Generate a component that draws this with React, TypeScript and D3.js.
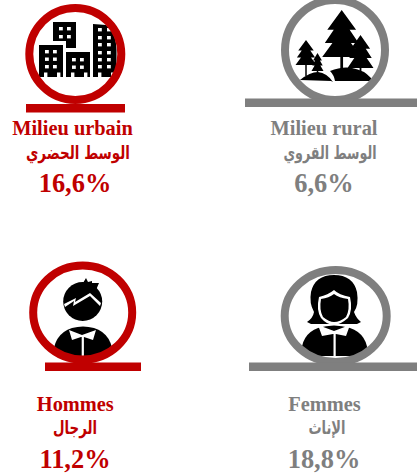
import React from 'react';
import * as d3 from 'd3';

// Data
const labelsFr = ['Milieu urbain', 'Milieu rural', 'Hommes', 'Femmes'];
const labelsAr = ['الوسط الحضري', 'الوسط القروي', 'الرجال', 'الإناث'];
const rates = [16.6, 6.6, 11.2, 18.8];
const icons = ['city', 'trees', 'man', 'woman'];

// Layout of each panel
const frX = [72.5, 324, 75.3, 324.5];
const arX = [78, 330, 75, 327];
const arW = [104, 93, 44, 37];
const valX = [75, 324, 75, 324];
const textBaseY = [135, 135, 410.5, 410.5];
const ringCx = [75.3, 335, 82.7, 335.7];
const ringCy = [54, 50, 312.5, 316];
const ringRx = [46, 50, 49.5, 51];
const ringRy = [46, 50, 47, 46];
const barX0 = [26, 245, 45, 249];
const barX1 = [125, 417, 141, 417];
const barY = [104, 98.5, 362.5, 362.5];
const BAR_H = 8.5;
const RING_W = 8;

const RED = '#c00000';
const GREY = '#7f7f7f';
const colors = [RED, GREY, RED, GREY];

const fmt = (v: number) => d3.format('.1f')(v).replace('.', ',') + '%';

function City() {
  const windows = (xs: number[], ys: number[]) =>
    xs.flatMap((x) => ys.map((y) => <rect key={x + '-' + y} x={x} y={y} width={3.8} height={3.4} fill="#fff" />));
  const doors = [44, 57, 71, 84, 98, 111];
  return (
    <g>
      <path d="M53 22H76V48H66V41H53Z" fill="#000" />
      <rect x={39} y={45} width={24} height={32} fill="#000" />
      <rect x={66} y={52} width={24} height={25} fill="#000" />
      <path d="M93 24L106 25Q116 32 116.5 50V77H93Z" fill="#000" />
      {windows([59, 67], [27, 35])}
      {windows([45, 53], [50, 57.5, 65])}
      {windows([72, 80], [58, 65.5])}
      {windows([98, 107], [28, 36, 43, 51, 58, 65])}
      {doors.map((x) => (
        <rect key={x} x={x} y={72.5} width={3.4} height={4.5} fill="#fff" />
      ))}
    </g>
  );
}

function tree(cx: number, top: number, halfW: number, h: number, trunkB: number) {
  const p = d3.path();
  const tiers = [0.42, 0.7, 1];
  p.moveTo(cx, top);
  tiers.forEach((t, i) => {
    const w = halfW * (0.55 + 0.45 * t);
    p.lineTo(cx + w, top + h * t);
    if (i < 2) p.lineTo(cx + w * 0.55, top + h * t);
  });
  tiers
    .slice()
    .reverse()
    .forEach((t, i) => {
      const w = halfW * (0.55 + 0.45 * t);
      if (i > 0) p.lineTo(cx - w * 0.55, top + h * t);
      p.lineTo(cx - w, top + h * t);
    });
  p.closePath();
  const tw = Math.max(1.5, halfW * 0.14);
  p.rect(cx - tw / 2, top + h - 1, tw, trunkB - top - h + 1);
  return p.toString();
}

function Trees() {
  return (
    <g>
      <path d={tree(341.7, 10, 19.5, 47, 70)} fill="#000" />
      <path d={tree(360.5, 35, 13, 33, 74)} fill="#000" />
      <path d={tree(306, 40, 10.5, 25, 76)} fill="#000" />
      <path d={tree(317.5, 53, 6, 18, 76)} fill="#000" />
      <path d="M300 80Q310 72 318 72Q327 73 333 82L331 81Z" fill="#000" />
      <path d="M330 71Q342 66 352 68Q364 70 371 78L371 81H335Q334 75 330 71Z" fill="#000" />
    </g>
  );
}

function Man() {
  return (
    <g>
      <circle cx={82.7} cy={301.5} r={19.5} fill="#000" />
      <path d="M83 283L86 278L88 282L92 281L92 283L99 283L96 290Z" fill="#000" />
      <path
        d="M64 304L76 298L75 302L90 293L101 303L100 306L90 296L73 306L74 301L65 307Z"
        fill="#fff"
      />
      <path d="M53 358Q53 334 72 328Q83 325 94 328Q113 334 113 358Z" fill="#000" />
      <path d="M69 330L82 335L96 330L93 340L84 337H81L72 340Z" fill="#fff" />
      <rect x={81.7} y={337} width={2.2} height={22} fill="#fff" />
    </g>
  );
}

function Woman() {
  return (
    <g>
      <path
        d="M334 275Q353 275 357 292Q359 305 354 312Q356 318 361 322L357 324H311L307 322Q313 318 314 312Q309 303 311 292Q315 275 334 275Z"
        fill="#000"
      />
      <path d="M334 290Q339 295 350 297Q353 310 348 318Q340 325 334 325Q327 325 321 318Q316 310 319 297Q328 295 334 290Z" fill="#fff" />
      <path d="M334 294Q339 298 348 299Q350 310 346 317Q340 322 334 322Q329 322 323 317Q319 310 321 299Q329 298 334 294Z" fill="#000" />
      <path d="M301 356Q301 334 318 328Q334 323 350 328Q368 334 368 356Z" fill="#000" />
      <path d="M318 325L334 331L350 325L346 336L336 334H333L322 336Z" fill="#fff" />
      <rect x={333.5} y={334} width={2.2} height={24} fill="#fff" />
    </g>
  );
}

const iconParts: Record<string, React.FC> = { city: City, trees: Trees, man: Man, woman: Woman };

export default function App() {
  return (
    <svg
      width={417}
      height={475}
      viewBox="0 0 417 475"
      style={{ position: 'absolute', left: 0, top: 0 }}
      fontFamily="'Liberation Serif', serif"
      fontWeight="bold"
    >
      <defs>
        {icons.map((d, i) => (
          <clipPath id={'clip-' + d} key={d}>
            <ellipse cx={ringCx[i]} cy={ringCy[i]} rx={ringRx[i]} ry={ringRy[i]} />
          </clipPath>
        ))}
      </defs>
      {icons.map((d, i) => {
        const Icon = iconParts[d];
        return (
          <g key={d}>
            <g clipPath={`url(#clip-${d})`}>
              <Icon />
            </g>
            <ellipse
              cx={ringCx[i]}
              cy={ringCy[i]}
              rx={ringRx[i]}
              ry={ringRy[i]}
              fill="none"
              stroke={colors[i]}
              strokeWidth={RING_W}
            />
            <rect x={barX0[i]} y={barY[i]} width={barX1[i] - barX0[i]} height={BAR_H} fill={colors[i]} />
            <g fill={colors[i]} textAnchor="middle">
              <text x={frX[i]} y={textBaseY[i]} fontSize={20.4}>
                {labelsFr[i]}
              </text>
              <text
                x={arX[i]}
                y={textBaseY[i] + 23.5}
                fontSize={18}
                fontFamily="'DejaVu Sans', sans-serif"
                direction="rtl"
                textLength={arW[i]}
                lengthAdjust="spacingAndGlyphs"
              >
                {labelsAr[i]}
              </text>
              <text x={valX[i]} y={textBaseY[i] + 57} fontSize={26.4}>
                {fmt(rates[i])}
              </text>
            </g>
          </g>
        );
      })}
    </svg>
  );
}
